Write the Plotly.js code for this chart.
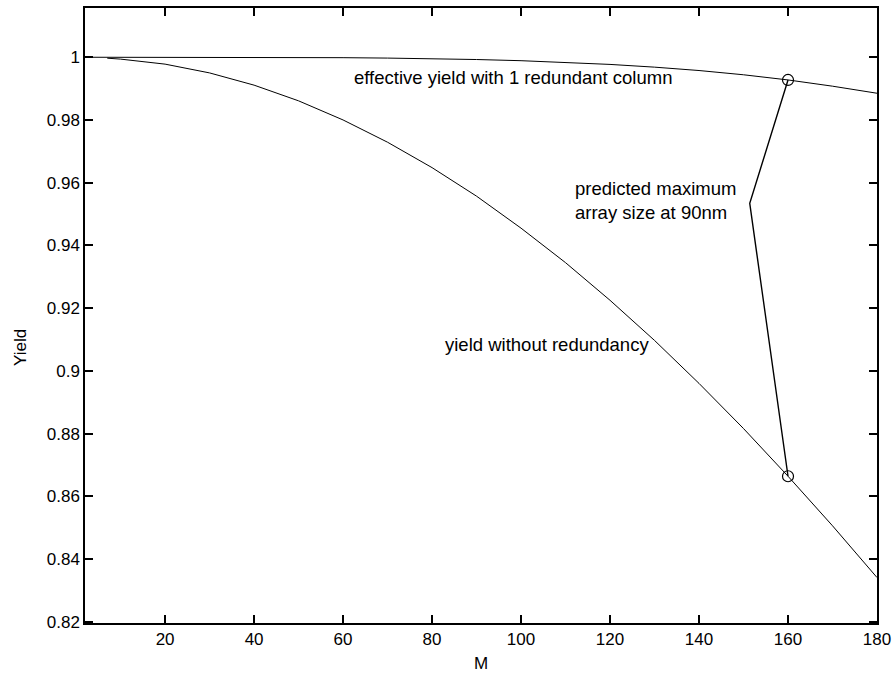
<!DOCTYPE html>
<html>
<head>
<meta charset="utf-8">
<script src="https://cdn.plot.ly/plotly-3.0.1.min.js"></script>
<style>html,body{margin:0;padding:0;background:#fff;}#chart{width:896px;height:677px;}</style>
</head>
<body>
<div id="chart"></div>
<script>
// Yield without redundancy
const mNoRed = [7, 10, 20, 30, 40, 50, 60, 70, 80, 90, 100, 110, 120, 130, 140, 150, 160, 170, 180];
const yieldNoRed = [0.9997, 0.9994, 0.9978, 0.9950, 0.9911, 0.9861, 0.9800, 0.9729, 0.9648, 0.9557, 0.9455, 0.9345, 0.9225, 0.9097, 0.8960, 0.8816, 0.8664, 0.8506, 0.8341];
// Effective yield with 1 redundant column
const mRed = [2, 10, 20, 30, 40, 50, 60, 70, 80, 90, 100, 110, 120, 130, 140, 150, 160, 170, 180];
const yieldRed = [1.0, 1.0, 0.99999, 0.99999, 0.99997, 0.99993, 0.99986, 0.99973, 0.99955, 0.99927, 0.99890, 0.99838, 0.99771, 0.99684, 0.99576, 0.99441, 0.99276, 0.99077, 0.98852];
// Pointer line from label to the two predicted points
const pointerM = [160, 151.4, 160];
const pointerY = [0.99276, 0.9534, 0.8664];
const markM = [160, 160];
const markY = [0.99276, 0.8664];
// Tick labels
const xTicks = [20, 40, 60, 80, 100, 120, 140, 160, 180];
const yTicks = [0.82, 0.84, 0.86, 0.88, 0.9, 0.92, 0.94, 0.96, 0.98, 1];
const yTickText = ['0.82', '0.84', '0.86', '0.88', '0.9', '0.92', '0.94', '0.96', '0.98', '1'];
const labels = {
  red: 'effective yield with 1 redundant column',
  pred: 'predicted maximum<br>array size at 90nm',
  noRed: 'yield without redundancy',
  xTitle: 'M',
  yTitle: 'Yield'
};

const FONT = 'Liberation Sans, Arial, sans-serif';
const X_RANGE = [2, 180];
const Y_RANGE = [0.8196, 1.0157];
const PW = 792, PH = 615, L = 85, T = 8;

const traces = [
  {x: mRed, y: yieldRed, mode: 'lines', line: {color: '#000', width: 1}, hoverinfo: 'skip'},
  {x: mNoRed, y: yieldNoRed, mode: 'lines', line: {color: '#000', width: 1}, hoverinfo: 'skip'},
  {x: pointerM, y: pointerY, mode: 'lines', line: {color: '#000', width: 1.4}, hoverinfo: 'skip'},
  {x: markM, y: markY, mode: 'markers', marker: {symbol: 'circle-open', size: 11, color: '#000', line: {width: 1.2, color: '#000'}}, hoverinfo: 'skip'}
];

const axisBase = {
  showgrid: false, zeroline: false, showline: true, linecolor: '#000', linewidth: 1.5,
  mirror: 'ticks', ticks: 'inside', ticklen: 8, tickwidth: 1.5, tickcolor: '#000',
  tickfont: {family: FONT, size: 17, color: '#000'}
};

const layout = {
  width: 896, height: 677,
  margin: {l: L, r: 19, t: T, b: 54, pad: 0},
  paper_bgcolor: '#fff', plot_bgcolor: '#fff',
  showlegend: false,
  xaxis: Object.assign({}, axisBase, {range: X_RANGE, tickmode: 'array', tickvals: xTicks, ticktext: xTicks.map(String)}),
  yaxis: Object.assign({}, axisBase, {range: Y_RANGE, tickmode: 'array', tickvals: yTicks, ticktext: yTickText}),
  annotations: [
    {x: 62.0, y: 0.9937, xref: 'x', yref: 'y', text: labels.red, showarrow: false, xanchor: 'left', yanchor: 'middle', font: {family: FONT, size: 18.5, color: '#000'}},
    {x: 111.6, y: 0.9543, xref: 'x', yref: 'y', text: labels.pred, showarrow: false, xanchor: 'left', yanchor: 'middle', align: 'left', font: {family: FONT, size: 18.5, color: '#000'}},
    {x: 82.4, y: 0.9083, xref: 'x', yref: 'y', text: labels.noRed, showarrow: false, xanchor: 'left', yanchor: 'middle', font: {family: FONT, size: 18.5, color: '#000'}},
    {x: (481 - L) / PW, y: (T + PH - 663) / PH, xref: 'paper', yref: 'paper', text: labels.xTitle, showarrow: false, xanchor: 'center', yanchor: 'middle', font: {family: FONT, size: 17, color: '#000'}},
    {x: (20 - L) / PW, y: (T + PH - 348) / PH, xref: 'paper', yref: 'paper', text: labels.yTitle, showarrow: false, textangle: -90, xanchor: 'center', yanchor: 'middle', font: {family: FONT, size: 17, color: '#000'}}
  ]
};

Plotly.newPlot('chart', traces, layout, {displayModeBar: false});
</script>
</body>
</html>
